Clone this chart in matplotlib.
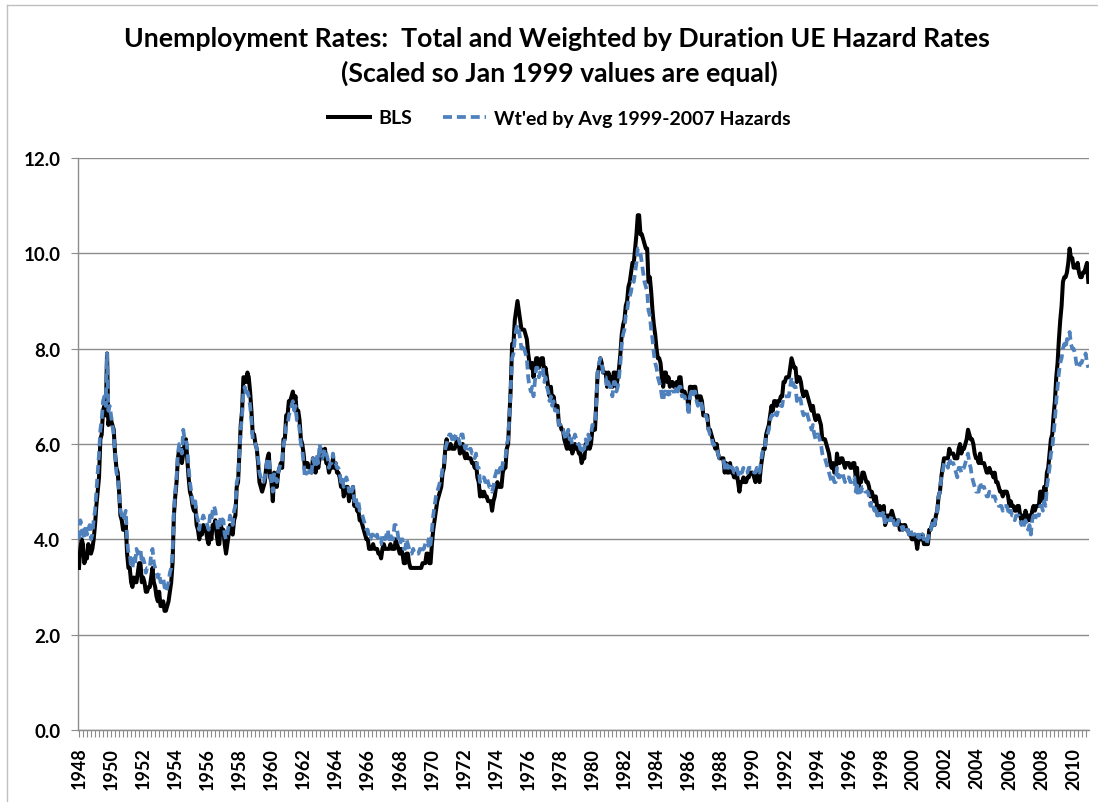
import matplotlib
matplotlib.use("Agg")
import matplotlib.pyplot as plt
import numpy as np
from matplotlib.lines import Line2D

# ---------------- data (monthly, Jan 1948 - Dec 2010) ----------------
start_year = 1948
end_year = 2010

bls_rate = [
    3.4, 3.8, 4.0, 3.9, 3.5, 3.6, 3.6, 3.9, 3.8, 3.7, 3.8, 4.0,   # 1948
    4.3, 4.7, 5.0, 5.3, 6.1, 6.2, 6.7, 6.8, 6.6, 7.9, 6.4, 6.6,   # 1949
    6.5, 6.4, 6.3, 5.8, 5.5, 5.4, 5.0, 4.5, 4.4, 4.2, 4.2, 4.3,   # 1950
    3.7, 3.4, 3.4, 3.1, 3.0, 3.2, 3.1, 3.1, 3.3, 3.5, 3.5, 3.1,   # 1951
    3.2, 3.1, 2.9, 2.9, 3.0, 3.0, 3.2, 3.4, 3.1, 3.0, 2.8, 2.7,   # 1952
    2.9, 2.6, 2.6, 2.7, 2.5, 2.5, 2.6, 2.7, 2.9, 3.1, 3.5, 4.5,   # 1953
    4.9, 5.2, 5.7, 5.9, 5.9, 5.6, 5.8, 6.0, 6.1, 5.7, 5.3, 5.0,   # 1954
    4.9, 4.7, 4.6, 4.7, 4.3, 4.2, 4.0, 4.2, 4.1, 4.3, 4.2, 4.2,   # 1955
    4.0, 3.9, 4.2, 4.0, 4.3, 4.3, 4.4, 4.1, 3.9, 3.9, 4.3, 4.2,   # 1956
    4.2, 3.9, 3.7, 3.9, 4.1, 4.3, 4.2, 4.1, 4.4, 4.5, 5.1, 5.2,   # 1957
    5.8, 6.4, 6.7, 7.4, 7.4, 7.3, 7.5, 7.4, 7.1, 6.7, 6.2, 6.2,   # 1958
    6.0, 5.9, 5.6, 5.2, 5.1, 5.0, 5.1, 5.2, 5.5, 5.7, 5.8, 5.3,   # 1959
    5.2, 4.8, 5.4, 5.2, 5.1, 5.4, 5.5, 5.6, 5.5, 6.1, 6.1, 6.6,   # 1960
    6.6, 6.9, 6.9, 7.0, 7.1, 6.9, 7.0, 6.6, 6.7, 6.5, 6.1, 6.0,   # 1961
    5.8, 5.5, 5.6, 5.6, 5.5, 5.5, 5.4, 5.7, 5.6, 5.4, 5.7, 5.5,   # 1962
    5.7, 5.9, 5.7, 5.7, 5.9, 5.6, 5.6, 5.4, 5.5, 5.5, 5.7, 5.5,   # 1963
    5.6, 5.4, 5.4, 5.3, 5.1, 5.2, 4.9, 5.0, 5.1, 5.1, 4.8, 5.0,   # 1964
    4.9, 5.1, 4.7, 4.8, 4.6, 4.6, 4.4, 4.4, 4.3, 4.2, 4.1, 4.0,   # 1965
    4.0, 3.8, 3.8, 3.8, 3.9, 3.8, 3.8, 3.8, 3.7, 3.7, 3.6, 3.8,   # 1966
    3.9, 3.8, 3.8, 3.8, 3.8, 3.9, 3.8, 3.8, 3.8, 4.0, 3.9, 3.8,   # 1967
    3.7, 3.8, 3.7, 3.5, 3.5, 3.7, 3.7, 3.5, 3.4, 3.4, 3.4, 3.4,   # 1968
    3.4, 3.4, 3.4, 3.4, 3.4, 3.5, 3.5, 3.5, 3.7, 3.7, 3.5, 3.5,   # 1969
    3.9, 4.2, 4.4, 4.6, 4.8, 4.9, 5.0, 5.1, 5.4, 5.5, 5.9, 6.1,   # 1970
    5.9, 5.9, 6.0, 5.9, 5.9, 5.9, 6.0, 6.1, 6.0, 5.8, 6.0, 6.0,   # 1971
    5.8, 5.7, 5.8, 5.7, 5.7, 5.7, 5.6, 5.6, 5.5, 5.6, 5.3, 5.2,   # 1972
    4.9, 5.0, 4.9, 5.0, 4.9, 4.9, 4.8, 4.8, 4.8, 4.6, 4.8, 4.9,   # 1973
    5.1, 5.2, 5.1, 5.1, 5.1, 5.4, 5.5, 5.5, 5.9, 6.0, 6.6, 7.2,   # 1974
    8.1, 8.1, 8.6, 8.8, 9.0, 8.8, 8.6, 8.4, 8.4, 8.4, 8.3, 8.2,   # 1975
    7.9, 7.7, 7.6, 7.7, 7.4, 7.6, 7.8, 7.8, 7.6, 7.7, 7.8, 7.8,   # 1976
    7.5, 7.6, 7.4, 7.2, 7.0, 7.2, 6.9, 7.0, 6.8, 6.8, 6.8, 6.4,   # 1977
    6.4, 6.3, 6.3, 6.1, 6.0, 5.9, 6.2, 5.9, 6.0, 5.8, 5.9, 6.0,   # 1978
    5.9, 5.9, 5.8, 5.8, 5.6, 5.7, 5.7, 6.0, 5.9, 6.0, 5.9, 6.0,   # 1979
    6.3, 6.3, 6.3, 6.9, 7.5, 7.6, 7.8, 7.7, 7.5, 7.5, 7.5, 7.2,   # 1980
    7.5, 7.4, 7.4, 7.2, 7.5, 7.5, 7.2, 7.4, 7.6, 7.9, 8.3, 8.5,   # 1981
    8.6, 8.9, 9.0, 9.3, 9.4, 9.6, 9.8, 9.8, 10.1, 10.4, 10.8, 10.8,  # 1982
    10.4, 10.4, 10.3, 10.2, 10.1, 10.1, 9.4, 9.5, 9.2, 8.8, 8.5, 8.3,  # 1983
    8.0, 7.8, 7.8, 7.7, 7.4, 7.2, 7.5, 7.5, 7.3, 7.4, 7.2, 7.3,   # 1984
    7.3, 7.2, 7.2, 7.3, 7.2, 7.4, 7.4, 7.1, 7.1, 7.1, 7.0, 7.0,   # 1985
    6.7, 7.2, 7.2, 7.1, 7.2, 7.2, 7.0, 6.9, 7.0, 7.0, 6.9, 6.6,   # 1986
    6.6, 6.6, 6.6, 6.3, 6.3, 6.2, 6.1, 6.0, 5.9, 6.0, 5.8, 5.7,   # 1987
    5.7, 5.7, 5.7, 5.4, 5.6, 5.4, 5.4, 5.6, 5.4, 5.4, 5.3, 5.3,   # 1988
    5.4, 5.2, 5.0, 5.2, 5.2, 5.3, 5.2, 5.2, 5.3, 5.3, 5.4, 5.4,   # 1989
    5.4, 5.3, 5.2, 5.4, 5.4, 5.2, 5.5, 5.7, 5.9, 5.9, 6.2, 6.3,   # 1990
    6.4, 6.6, 6.8, 6.7, 6.9, 6.9, 6.8, 6.9, 6.9, 7.0, 7.0, 7.3,   # 1991
    7.3, 7.4, 7.4, 7.4, 7.6, 7.8, 7.7, 7.6, 7.6, 7.3, 7.4, 7.4,   # 1992
    7.3, 7.1, 7.0, 7.1, 7.1, 7.0, 6.9, 6.8, 6.7, 6.8, 6.6, 6.5,   # 1993
    6.6, 6.6, 6.5, 6.4, 6.1, 6.1, 6.1, 6.0, 5.9, 5.8, 5.6, 5.5,   # 1994
    5.6, 5.4, 5.4, 5.8, 5.6, 5.6, 5.7, 5.7, 5.6, 5.5, 5.6, 5.6,   # 1995
    5.6, 5.5, 5.5, 5.6, 5.6, 5.3, 5.5, 5.1, 5.2, 5.2, 5.4, 5.4,   # 1996
    5.3, 5.2, 5.2, 5.1, 4.9, 5.0, 4.9, 4.8, 4.9, 4.7, 4.6, 4.7,   # 1997
    4.6, 4.6, 4.7, 4.3, 4.4, 4.5, 4.5, 4.5, 4.6, 4.5, 4.4, 4.4,   # 1998
    4.3, 4.4, 4.2, 4.3, 4.2, 4.3, 4.3, 4.2, 4.2, 4.1, 4.1, 4.0,   # 1999
    4.0, 4.1, 4.0, 3.8, 4.0, 4.0, 4.0, 4.1, 3.9, 3.9, 3.9, 3.9,   # 2000
    4.2, 4.2, 4.3, 4.4, 4.3, 4.5, 4.6, 4.9, 5.0, 5.3, 5.5, 5.7,   # 2001
    5.7, 5.7, 5.7, 5.9, 5.8, 5.8, 5.8, 5.7, 5.7, 5.7, 5.9, 6.0,   # 2002
    5.8, 5.9, 5.9, 6.0, 6.1, 6.3, 6.2, 6.1, 6.1, 6.0, 5.8, 5.7,   # 2003
    5.7, 5.6, 5.8, 5.6, 5.6, 5.6, 5.5, 5.4, 5.4, 5.5, 5.4, 5.4,   # 2004
    5.3, 5.4, 5.2, 5.2, 5.1, 5.0, 5.0, 4.9, 5.0, 5.0, 5.0, 4.9,   # 2005
    4.7, 4.8, 4.7, 4.7, 4.6, 4.6, 4.7, 4.7, 4.5, 4.4, 4.5, 4.4,   # 2006
    4.6, 4.5, 4.4, 4.5, 4.4, 4.6, 4.7, 4.6, 4.7, 4.7, 4.7, 5.0,   # 2007
    5.0, 4.8, 5.1, 5.0, 5.4, 5.5, 5.8, 6.1, 6.2, 6.6, 6.9, 7.4,   # 2008
    7.7, 8.2, 8.6, 8.9, 9.4, 9.5, 9.5, 9.6, 9.8, 10.1, 9.9, 9.9,  # 2009
    9.7, 9.7, 9.7, 9.8, 9.6, 9.5, 9.5, 9.6, 9.6, 9.7, 9.8, 9.4,   # 2010
]

weighted_rate = [
    4.0, 4.4, 4.3, 4.1, 4.0, 4.3, 4.1, 4.2, 4.3, 4.0, 4.1, 4.4,   # 1948
    4.6, 5.0, 5.4, 5.8, 6.3, 6.5, 6.9, 7.0, 6.8, 7.9, 6.7, 6.8,   # 1949
    6.6, 6.4, 6.2, 5.8, 5.4, 5.3, 5.0, 4.6, 4.5, 4.4, 4.5, 4.6,   # 1950
    4.0, 3.7, 3.7, 3.4, 3.4, 3.6, 3.5, 3.8, 3.7, 3.8, 3.8, 3.5,   # 1951
    3.6, 3.5, 3.3, 3.4, 3.4, 3.4, 3.7, 3.8, 3.5, 3.4, 3.3, 3.2,   # 1952
    3.3, 3.1, 3.1, 3.2, 3.0, 2.9, 3.0, 3.1, 3.3, 3.4, 3.7, 4.6,   # 1953
    5.0, 5.3, 5.8, 6.0, 6.0, 5.8, 6.3, 6.1, 6.1, 5.9, 5.5, 5.2,   # 1954
    5.0, 4.8, 4.7, 4.8, 4.5, 4.4, 4.2, 4.4, 4.4, 4.5, 4.4, 4.4,   # 1955
    4.3, 4.2, 4.5, 4.4, 4.6, 4.7, 4.6, 4.4, 4.2, 4.2, 4.5, 4.4,   # 1956
    4.4, 4.1, 4.0, 4.1, 4.3, 4.5, 4.4, 4.3, 4.6, 4.7, 5.2, 5.3,   # 1957
    5.8, 6.3, 6.6, 7.1, 7.2, 7.0, 7.1, 7.0, 6.8, 6.5, 6.1, 6.1,   # 1958
    6.0, 5.9, 5.7, 5.4, 5.3, 5.2, 5.2, 5.3, 5.5, 5.7, 5.7, 5.4,   # 1959
    5.2, 5.0, 5.4, 5.3, 5.2, 5.4, 5.5, 5.6, 5.6, 6.0, 6.1, 6.4,   # 1960
    6.4, 6.6, 6.7, 6.8, 6.9, 6.7, 6.8, 6.5, 6.5, 6.3, 6.0, 5.9,   # 1961
    5.6, 5.3, 5.4, 5.4, 5.4, 5.5, 5.4, 5.7, 5.6, 5.5, 5.8, 5.6,   # 1962
    6.0, 5.8, 5.7, 5.8, 5.9, 5.8, 5.7, 5.5, 5.6, 5.6, 5.8, 5.6,   # 1963
    5.6, 5.5, 5.5, 5.4, 5.2, 5.3, 5.1, 5.2, 5.3, 5.2, 5.0, 5.1,   # 1964
    5.0, 5.1, 4.8, 4.9, 4.7, 4.8, 4.6, 4.6, 4.5, 4.4, 4.3, 4.2,   # 1965
    4.2, 4.0, 4.0, 4.1, 4.1, 4.0, 4.0, 4.1, 4.0, 3.9, 3.9, 4.1,   # 1966
    4.1, 4.0, 4.1, 4.2, 4.0, 4.1, 4.0, 4.0, 4.3, 4.3, 4.2, 4.0,   # 1967
    3.9, 4.0, 4.0, 3.8, 3.8, 4.0, 3.9, 3.8, 3.7, 3.7, 3.8, 3.7,   # 1968
    3.7, 3.7, 3.7, 3.8, 3.7, 3.8, 3.8, 3.9, 4.0, 4.0, 3.8, 3.9,   # 1969
    4.2, 4.5, 4.7, 4.9, 5.0, 5.1, 5.2, 5.3, 5.5, 5.6, 5.9, 6.0,   # 1970
    6.1, 6.2, 6.2, 6.1, 6.2, 6.1, 6.2, 6.2, 6.1, 6.0, 6.2, 6.2,   # 1971
    6.0, 5.9, 6.0, 5.9, 5.9, 5.9, 5.8, 5.8, 5.7, 5.8, 5.5, 5.5,   # 1972
    5.2, 5.3, 5.3, 5.3, 5.2, 5.3, 5.2, 5.1, 5.1, 5.0, 5.1, 5.3,   # 1973
    5.4, 5.5, 5.4, 5.5, 5.4, 5.6, 5.7, 5.7, 6.0, 6.1, 6.6, 7.2,   # 1974
    7.8, 7.9, 8.2, 8.4, 8.5, 8.4, 8.2, 8.0, 8.1, 8.0, 7.9, 7.8,   # 1975
    7.4, 7.2, 7.1, 7.2, 7.0, 7.3, 7.6, 7.6, 7.4, 7.5, 7.6, 7.6,   # 1976
    7.3, 7.4, 7.2, 7.1, 6.9, 7.0, 6.8, 6.9, 6.7, 6.7, 6.7, 6.4,   # 1977
    6.4, 6.3, 6.3, 6.2, 6.1, 6.1, 6.3, 6.1, 6.1, 6.0, 6.1, 6.2,   # 1978
    6.1, 6.0, 6.0, 5.9, 5.8, 5.9, 5.9, 6.1, 6.0, 6.2, 6.1, 6.2,   # 1979
    6.4, 6.4, 6.4, 6.9, 7.5, 7.7, 7.8, 7.7, 7.5, 7.4, 7.4, 7.2,   # 1980
    7.3, 7.2, 7.2, 7.0, 7.3, 7.3, 7.1, 7.2, 7.4, 7.7, 8.1, 8.3,   # 1981
    8.4, 8.7, 8.8, 9.0, 9.1, 9.2, 9.4, 9.4, 9.6, 9.8, 10.1, 10.1,  # 1982
    10.0, 9.8, 9.6, 9.4, 9.3, 9.2, 8.8, 8.7, 8.4, 8.2, 7.9, 7.7,  # 1983
    7.6, 7.4, 7.3, 7.2, 7.0, 6.9, 7.1, 7.1, 7.0, 7.1, 7.0, 7.1,   # 1984
    7.1, 7.1, 7.1, 7.2, 7.1, 7.2, 7.2, 7.0, 7.0, 7.0, 6.9, 6.9,   # 1985
    6.6, 7.0, 7.1, 7.0, 7.1, 7.1, 6.9, 6.8, 6.9, 6.9, 6.8, 6.6,   # 1986
    6.6, 6.6, 6.5, 6.3, 6.2, 6.2, 6.0, 6.0, 5.9, 5.9, 5.8, 5.7,   # 1987
    5.7, 5.7, 5.7, 5.5, 5.6, 5.5, 5.5, 5.6, 5.5, 5.5, 5.4, 5.4,   # 1988
    5.5, 5.4, 5.3, 5.4, 5.4, 5.5, 5.4, 5.4, 5.4, 5.5, 5.5, 5.5,   # 1989
    5.5, 5.4, 5.4, 5.5, 5.5, 5.4, 5.6, 5.8, 5.9, 5.9, 6.2, 6.2,   # 1990
    6.3, 6.5, 6.6, 6.6, 6.7, 6.7, 6.6, 6.7, 6.7, 6.8, 6.8, 7.0,   # 1991
    7.0, 7.0, 7.0, 7.0, 7.2, 7.4, 7.3, 7.2, 7.2, 6.9, 7.0, 7.0,   # 1992
    6.9, 6.7, 6.6, 6.7, 6.7, 6.6, 6.5, 6.4, 6.3, 6.4, 6.2, 6.1,   # 1993
    6.2, 6.2, 6.1, 6.0, 5.8, 5.7, 5.7, 5.6, 5.5, 5.4, 5.3, 5.2,   # 1994
    5.3, 5.2, 5.2, 5.5, 5.3, 5.3, 5.4, 5.4, 5.3, 5.2, 5.3, 5.3,   # 1995
    5.3, 5.2, 5.2, 5.3, 5.3, 5.0, 5.2, 4.9, 5.0, 5.0, 5.1, 5.1,   # 1996
    5.0, 5.0, 5.0, 4.9, 4.7, 4.8, 4.7, 4.6, 4.7, 4.5, 4.5, 4.6,   # 1997
    4.5, 4.5, 4.6, 4.3, 4.4, 4.4, 4.4, 4.4, 4.5, 4.4, 4.3, 4.4,   # 1998
    4.3, 4.4, 4.3, 4.3, 4.2, 4.3, 4.3, 4.2, 4.2, 4.1, 4.2, 4.1,   # 1999
    4.1, 4.1, 4.1, 4.0, 4.1, 4.0, 4.1, 4.1, 4.0, 4.0, 3.9, 4.0,   # 2000
    4.2, 4.2, 4.3, 4.4, 4.3, 4.5, 4.6, 4.9, 5.0, 5.3, 5.4, 5.6,   # 2001
    5.6, 5.6, 5.5, 5.7, 5.6, 5.6, 5.6, 5.5, 5.4, 5.3, 5.5, 5.5,   # 2002
    5.4, 5.5, 5.5, 5.6, 5.7, 5.8, 5.6, 5.5, 5.3, 5.2, 5.1, 5.0,   # 2003
    5.0, 5.0, 5.2, 5.1, 5.1, 5.1, 5.0, 4.9, 4.9, 5.0, 4.9, 4.9,   # 2004
    4.9, 4.9, 4.8, 4.8, 4.7, 4.7, 4.7, 4.6, 4.7, 4.7, 4.7, 4.6,   # 2005
    4.5, 4.6, 4.5, 4.5, 4.4, 4.5, 4.5, 4.5, 4.4, 4.3, 4.4, 4.3,   # 2006
    4.4, 4.3, 4.2, 4.3, 4.1, 4.4, 4.5, 4.4, 4.5, 4.5, 4.5, 4.7,   # 2007
    4.7, 4.6, 4.8, 4.7, 5.1, 5.3, 5.5, 5.8, 5.9, 6.2, 6.5, 6.9,   # 2008
    7.2, 7.5, 7.7, 7.8, 8.0, 8.1, 8.0, 8.2, 8.2, 8.35, 8.1, 8.0,  # 2009
    8.0, 7.9, 7.7, 7.6, 7.6, 7.7, 7.7, 7.8, 7.8, 7.9, 7.7, 7.6,   # 2010
]

y_ticks = [0.0, 2.0, 4.0, 6.0, 8.0, 10.0, 12.0]
label_years = list(range(start_year, end_year + 1, 2))

title_text = "Unemployment Rates:  Total and Weighted by Duration UE Hazard Rates"
subtitle_text = "(Scaled so Jan 1999 values are equal)"
series_names = ["BLS", "Wt'ed by Avg 1999-2007 Hazards"]

# ---------------- figure ----------------
W, H = 1098, 803
fig = plt.figure(figsize=(W / 100, H / 100), dpi=100)
fig.patch.set_facecolor("white")

def fx(px):
    return px / W

def fy(py):
    return 1 - py / H

ax_left, ax_right, ax_top, ax_bottom = 78.3, 1089.0, 159.0, 731.0
ax = fig.add_axes([fx(ax_left), fy(ax_bottom), (ax_right - ax_left) / W,
                   (ax_bottom - ax_top) / H])

n = len(bls_rate)
months = np.arange(n)
grid_col = "#8c8c8c"

l1, = ax.plot(months, bls_rate, color="black", lw=2.9,
              solid_joinstyle="round", zorder=3, label=series_names[0])
l2, = ax.plot(months, weighted_rate, color="#4F81BD", lw=2.7,
              dashes=(2.4, 1.3), zorder=4, label=series_names[1])

ax.set_xlim(-0.5, n - 0.5)
ax.set_ylim(y_ticks[0], y_ticks[-1])
ax.set_yticks(y_ticks)
ax.set_yticklabels([f"{v:.1f}" for v in y_ticks])
ax.yaxis.grid(True, color=grid_col, lw=1.0)
ax.set_axisbelow(True)

for s in ["top", "right"]:
    ax.spines[s].set_visible(False)
for s in ["left", "bottom"]:
    ax.spines[s].set_color(grid_col)
    ax.spines[s].set_linewidth(1.0)

label_pos = [(y - start_year) * 12 for y in label_years]
ax.set_xticks(label_pos)
ax.set_xticklabels([str(y) for y in label_years], rotation=90)
ax.set_xticks(np.arange(0, n, 3), minor=True)
ax.tick_params(axis="x", which="both", direction="out", length=5,
               color=grid_col, width=0.8)
ax.tick_params(axis="x", which="major", pad=7)
ax.tick_params(axis="y", direction="out", length=5, color=grid_col,
               width=0.8, pad=8)

for t in ax.get_xticklabels():
    t.set_fontfamily("Lato")
    t.set_fontsize(13)
    t.set_fontweight("bold")
for t in ax.get_yticklabels():
    t.set_fontfamily("Lato")
    t.set_fontsize(13.5)
    t.set_fontweight("bold")

# ---------------- titles ----------------
fig.text(fx(557), fy(39), title_text, ha="center", va="center",
         fontfamily="Lato", fontweight="bold", fontsize=19.2)
fig.text(fx(559), fy(73), subtitle_text, ha="center", va="center",
         fontfamily="Lato", fontweight="bold", fontsize=19.2)

# ---------------- legend ----------------
leg = fig.legend(handles=[l1, l2], loc="center",
                 bbox_to_anchor=(fx(559), fy(119)), ncol=2, frameon=False,
                 prop={"family": "Lato", "weight": "bold", "size": 14},
                 handlelength=2.2, handletextpad=0.4, columnspacing=1.6)

# ---------------- outer border ----------------
border_col = "#bfbfbf"
fig.add_artist(Line2D([fx(7), fx(7)], [0, fy(6)], transform=fig.transFigure,
                      color=border_col, lw=1))
fig.add_artist(Line2D([fx(7), 1], [fy(6), fy(6)], transform=fig.transFigure,
                      color=border_col, lw=1))

fig.savefig("out.png", dpi=100, facecolor="white")
